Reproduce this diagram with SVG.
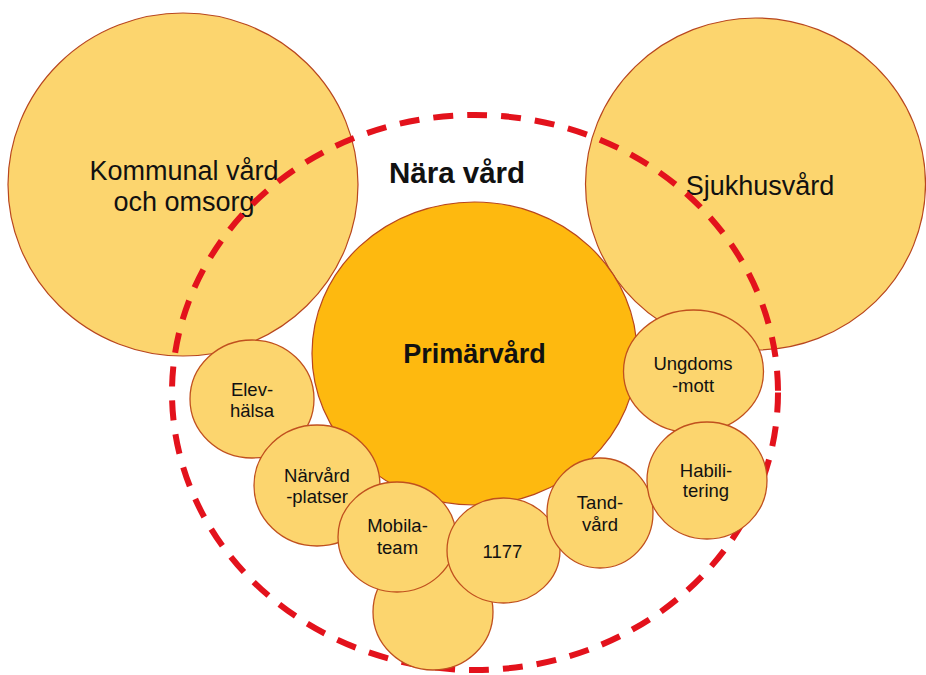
<svg xmlns="http://www.w3.org/2000/svg" width="926" height="675" viewBox="0 0 926 675">
<style>
.big{fill:#FCD56E;stroke:#B8461E;stroke-width:1.2}
.sm{fill:#FCD56E;stroke:#C0501E;stroke-width:1.3}
.prim{fill:#FEB90F;stroke:#B8461E;stroke-width:1.2}
.t{font-family:"Liberation Sans",Arial,sans-serif;fill:#111;text-anchor:middle}
.lg{font-size:27px}
.b{font-weight:bold}
.s{font-size:18.5px}
.dash{fill:none;stroke:#E3121C;stroke-width:6;stroke-dasharray:20 14}
</style>
<rect width="926" height="675" fill="#fff"/>
<g id="kommunal">
<ellipse class="big" cx="183" cy="184.5" rx="175" ry="171.5"/>
<text class="t lg" x="184" y="180">Kommunal vård</text>
<text class="t lg" x="184" y="211">och omsorg</text>
</g>
<g id="sjukhus">
<ellipse class="big" cx="755.5" cy="184" rx="170" ry="166"/>
<text class="t lg" x="760" y="195">Sjukhusvård</text>
</g>
<g id="nara-vard">
<ellipse class="dash" cx="475" cy="392.5" rx="303" ry="277.5"/>
<text class="t b" x="457" y="183" font-size="29.5">Nära vård</text>
</g>
<g id="primarvard">
<ellipse class="prim" cx="474.5" cy="353.5" rx="162.5" ry="151.5"/>
<text class="t lg b" x="474.5" y="363">Primärvård</text>
</g>
<g id="ungdoms">
<ellipse class="sm" cx="693.5" cy="371.5" rx="70" ry="61.5"/>
<text class="t s" x="693" y="370">Ungdoms</text>
<text class="t s" x="693" y="392">-mott</text>
</g>
<g id="elev">
<ellipse class="sm" cx="252" cy="399" rx="62" ry="59"/>
<text class="t s" x="252" y="396">Elev-</text>
<text class="t s" x="252" y="417">hälsa</text>
</g>
<g id="narvard">
<ellipse class="sm" cx="317" cy="485.5" rx="63" ry="60.5"/>
<text class="t s" x="317" y="482">Närvård</text>
<text class="t s" x="317" y="503">-platser</text>
</g>
<g id="unlabeled">
<ellipse class="sm" cx="433" cy="612" rx="60" ry="58"/>
</g>
<g id="mobila">
<ellipse class="sm" cx="397" cy="537" rx="59" ry="55"/>
<text class="t s" x="397.5" y="532">Mobila-</text>
<text class="t s" x="397.5" y="554">team</text>
</g>
<g id="n1177">
<ellipse class="sm" cx="503.5" cy="550.5" rx="56.5" ry="52.5"/>
<text class="t s" x="502.5" y="558">1177</text>
</g>
<g id="tand">
<ellipse class="sm" cx="600" cy="513" rx="53" ry="55"/>
<text class="t s" x="600" y="509">Tand-</text>
<text class="t s" x="600" y="531">vård</text>
</g>
<g id="habili">
<ellipse class="sm" cx="707" cy="480.5" rx="60" ry="58.5"/>
<text class="t s" x="706" y="477">Habili-</text>
<text class="t s" x="706" y="497">tering</text>
</g>
<g id="connectors"></g>
</svg>
